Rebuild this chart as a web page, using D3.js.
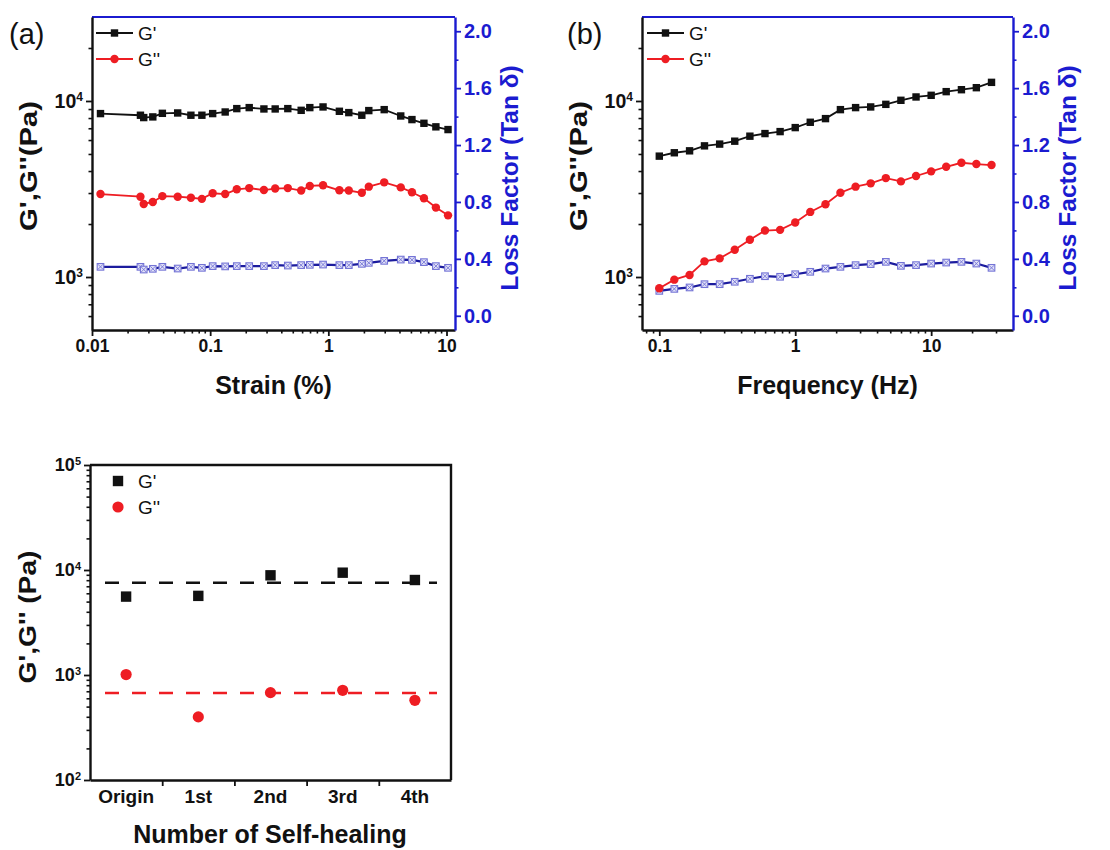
<!DOCTYPE html>
<html>
<head>
<meta charset="utf-8">
<script src="https://cdn.jsdelivr.net/npm/d3@7"></script>
<style>
  html, body { margin: 0; padding: 0; background: #fff; }
  svg text { font-family: "Liberation Sans", Arial, sans-serif; }
</style>
</head>
<body>
<script>
// ---------------- DATA ----------------
const strainX   = [0.0118, 0.0257, 0.0274, 0.0327, 0.0394, 0.0531, 0.0687, 0.0851, 0.105, 0.134, 0.168, 0.214, 0.285, 0.355, 0.454, 0.589, 0.697, 0.902, 1.24, 1.49, 1.92, 2.20, 2.97, 4.10, 5.10, 6.44, 8.13, 10.3];
const strainGp  = [8480, 8300, 8050, 8120, 8510, 8550, 8300, 8300, 8480, 8660, 9050, 9170, 9010, 9010, 9050, 8850, 9170, 9250, 8740, 8590, 8300, 8820, 8930, 8220, 7840, 7470, 7130, 6880];
const strainGpp = [2960, 2860, 2600, 2670, 2880, 2860, 2820, 2780, 2990, 2960, 3150, 3200, 3120, 3180, 3200, 3100, 3290, 3320, 3110, 3100, 3010, 3260, 3450, 3230, 3030, 2800, 2480, 2240];
const strainTan = [0.344, 0.344, 0.325, 0.330, 0.344, 0.332, 0.344, 0.337, 0.349, 0.347, 0.349, 0.349, 0.349, 0.356, 0.353, 0.356, 0.358, 0.360, 0.356, 0.356, 0.365, 0.372, 0.386, 0.395, 0.393, 0.377, 0.349, 0.337];

const freqX   = [0.1, 0.129, 0.167, 0.215, 0.278, 0.359, 0.464, 0.599, 0.774, 1.0, 1.29, 1.67, 2.15, 2.78, 3.59, 4.64, 5.99, 7.74, 10, 12.9, 16.7, 21.5, 27.8];
const freqGp  = [4860, 5080, 5210, 5560, 5690, 5910, 6310, 6530, 6700, 7060, 7570, 7940, 8930, 9170, 9250, 9570, 10090, 10540, 10770, 11300, 11590, 11900, 12760];
const freqGpp = [863, 966, 1027, 1227, 1276, 1429, 1627, 1836, 1853, 2039, 2343, 2589, 3013, 3260, 3405, 3648, 3493, 3748, 3983, 4230, 4456, 4382, 4327];
const freqTan = [0.175, 0.189, 0.199, 0.222, 0.222, 0.239, 0.260, 0.278, 0.274, 0.292, 0.309, 0.332, 0.344, 0.356, 0.363, 0.379, 0.351, 0.356, 0.367, 0.374, 0.379, 0.367, 0.337];

const healCats = ["Origin", "1st", "2nd", "3rd", "4th"];
const healGp   = [5580, 5670, 8900, 9430, 8030];
const healGpp  = [1010, 399, 679, 715, 574];
const healGpMean  = [7580];
const healGppMean = [675];

const strainTicks = [0.01, 0.1, 1, 10];
const freqTicks   = [0.1, 1, 10];
const modTicks    = [1e3, 1e4];
const modTicksC   = [1e2, 1e3, 1e4, 1e5];
const tanTicks    = [0.0, 0.4, 0.8, 1.2, 1.6, 2.0];
const tanMinor    = [0.2, 0.6, 1.0, 1.4, 1.8];

// ---------------- STYLE ----------------
const BLACK = "#111";
const RED = "#ee1d23";
const BLUE = "#1b1bd0";
const NAVY = "#1c1c9e";
const MK_STROKE = "#7474d6";
const MK_FILL = "#e2e2f7";

const svg = d3.select("body").append("svg").attr("width", 1110).attr("height", 850);

function logMinors(lo, hi) {
  const out = [];
  for (let e = -3; e <= 5; e++) {
    for (let m = 2; m <= 9; m++) {
      const v = m * Math.pow(10, e);
      if (v > lo * 1.0001 && v < hi * 0.9999) out.push(v);
    }
  }
  return out;
}

function supFormat(sel, supSize) {
  sel.selectAll(".tick text").each(function(d) {
    const t = d3.select(this);
    const e = Math.round(Math.log10(d));
    t.text(null);
    t.append("tspan").text("10");
    t.append("tspan").attr("dy", "-0.55em").attr("font-size", supSize).text(e);
  });
}

function styleAxis(g, color, width) {
  g.select(".domain").attr("stroke", color).attr("stroke-width", width);
  g.selectAll(".tick line").attr("stroke", color).attr("stroke-width", 1.8);
}

function seriesPanel(cfg) {
  const { x, y, r, xTicks, xLabel, tag, tagX, legX, Gp, Gpp, Tan, X } = cfg;
  const [x0, x1] = x.range();
  const [y0, y1] = y.range(); // y0 bottom, y1 top

  // top frame (blue)
  svg.append("line").attr("x1", x0).attr("x2", x1).attr("y1", y1).attr("y2", y1)
    .attr("stroke", BLUE).attr("stroke-width", 2.2);

  // bottom axis minors + majors
  const bMin = svg.append("g").attr("transform", `translate(0,${y0})`)
    .call(d3.axisBottom(x).tickValues(logMinors(x.domain()[0], x.domain()[1])).tickSize(3.5).tickFormat(""));
  bMin.select(".domain").remove();
  bMin.selectAll(".tick line").attr("stroke", BLACK).attr("stroke-width", 1.6);
  const bMaj = svg.append("g").attr("transform", `translate(0,${y0})`)
    .call(d3.axisBottom(x).tickValues(xTicks).tickSize(6).tickSizeOuter(0).tickPadding(4).tickFormat(d3.format("~g")));
  styleAxis(bMaj, BLACK, 2.4);
  bMaj.selectAll(".tick text").attr("font-size", 17.5).attr("font-weight", "bold").attr("fill", BLACK);

  // left axis
  const lMin = svg.append("g").attr("transform", `translate(${x0},0)`)
    .call(d3.axisLeft(y).tickValues(logMinors(y.domain()[0], y.domain()[1])).tickSize(3.5).tickFormat(""));
  lMin.select(".domain").remove();
  lMin.selectAll(".tick line").attr("stroke", BLACK).attr("stroke-width", 1.6);
  const lMaj = svg.append("g").attr("transform", `translate(${x0},0)`)
    .call(d3.axisLeft(y).tickValues(modTicks).tickSize(6).tickSizeOuter(0).tickPadding(3));
  styleAxis(lMaj, BLACK, 2.4);
  lMaj.selectAll(".tick text").attr("font-size", 19.5).attr("font-weight", "bold").attr("fill", BLACK);
  supFormat(lMaj, 12);

  // right axis (blue)
  const rMin = svg.append("g").attr("transform", `translate(${x1},0)`)
    .call(d3.axisRight(r).tickValues(tanMinor).tickSize(3.5).tickFormat(""));
  rMin.select(".domain").remove();
  rMin.selectAll(".tick line").attr("stroke", BLUE).attr("stroke-width", 1.6);
  const rMaj = svg.append("g").attr("transform", `translate(${x1},0)`)
    .call(d3.axisRight(r).tickValues(tanTicks).tickSize(6).tickSizeOuter(0).tickPadding(3).tickFormat(d3.format(".1f")));
  styleAxis(rMaj, BLUE, 2.4);
  rMaj.selectAll(".tick text").attr("font-size", 20).attr("font-weight", "bold").attr("fill", BLUE);

  // series
  const clip = "clip-" + tag.replace(/[()]/g, "");
  svg.append("clipPath").attr("id", clip).append("rect")
    .attr("x", x0).attr("y", y1).attr("width", x1 - x0).attr("height", y0 - y1);
  const plot = svg.append("g").attr("clip-path", `url(#${clip})`);

  const ptsTan = X.map((v, i) => [x(v), r(Tan[i])]);
  plot.append("path").attr("d", d3.line()(ptsTan)).attr("fill", "none").attr("stroke", NAVY).attr("stroke-width", 2.2);
  const tanG = plot.append("g").selectAll("g").data(ptsTan).join("g").attr("transform", d => `translate(${d[0]},${d[1]})`);
  tanG.append("rect").attr("x", -3.3).attr("y", -3.3).attr("width", 6.6).attr("height", 6.6)
    .attr("fill", MK_FILL).attr("stroke", MK_STROKE).attr("stroke-width", 1.1);
  tanG.append("path").attr("d", "M-2.6,-2.6L2.6,2.6M-2.6,2.6L2.6,-2.6").attr("stroke", MK_STROKE).attr("stroke-width", 0.9);

  const ptsGpp = X.map((v, i) => [x(v), y(Gpp[i])]);
  plot.append("path").attr("d", d3.line()(ptsGpp)).attr("fill", "none").attr("stroke", RED).attr("stroke-width", 1.8);
  plot.append("g").selectAll("circle").data(ptsGpp).join("circle")
    .attr("cx", d => d[0]).attr("cy", d => d[1]).attr("r", 4.2).attr("fill", RED);

  const ptsGp = X.map((v, i) => [x(v), y(Gp[i])]);
  plot.append("path").attr("d", d3.line()(ptsGp)).attr("fill", "none").attr("stroke", BLACK).attr("stroke-width", 1.8);
  plot.append("g").selectAll("rect").data(ptsGp).join("rect")
    .attr("x", d => d[0] - 3.7).attr("y", d => d[1] - 3.7).attr("width", 7.4).attr("height", 7.4).attr("fill", BLACK);

  // legend
  const leg = [{ name: "G'", color: BLACK, shape: "sq", yy: 33 }, { name: "G''", color: RED, shape: "ci", yy: 59 }];
  leg.forEach(l => {
    svg.append("line").attr("x1", legX).attr("x2", legX + 37).attr("y1", l.yy).attr("y2", l.yy)
      .attr("stroke", l.color).attr("stroke-width", 2);
    if (l.shape === "sq") {
      svg.append("rect").attr("x", legX + 18.5 - 3.7).attr("y", l.yy - 3.7).attr("width", 7.4).attr("height", 7.4).attr("fill", l.color);
    } else {
      svg.append("circle").attr("cx", legX + 18.5).attr("cy", l.yy).attr("r", 4.2).attr("fill", l.color);
    }
    svg.append("text").attr("x", legX + 42).attr("y", l.yy + 6.5).attr("font-size", 19).attr("fill", BLACK).text(l.name);
  });

  // titles
  svg.append("text").attr("x", tagX).attr("y", 44).attr("font-size", 29).attr("fill", BLACK).text(tag);
  svg.append("text").attr("transform", `translate(${x0 - 55},166) rotate(-90)`)
    .attr("text-anchor", "middle").attr("font-size", 24).attr("font-weight", "bold").attr("fill", BLACK)
    .attr("textLength", 130).attr("lengthAdjust", "spacingAndGlyphs")
    .text("G',G''(Pa)");
  svg.append("text").attr("transform", `translate(${x1 + 63},178) rotate(-90)`)
    .attr("text-anchor", "middle").attr("font-size", 24.5).attr("font-weight", "bold").attr("fill", BLUE)
    .text("Loss Factor (Tan \u03b4)");
  svg.append("text").attr("x", (x0 + x1) / 2).attr("y", 394)
    .attr("text-anchor", "middle").attr("font-size", 25).attr("font-weight", "bold").attr("fill", BLACK)
    .text(xLabel);
}

// ---------------- PANEL (a) ----------------
seriesPanel({
  x: d3.scaleLog().domain([0.01, 11.8]).range([92, 455]),
  y: d3.scaleLog().domain([500, 30000]).range([330, 17]),
  r: d3.scaleLinear().domain([-0.1, 2.1]).range([330, 17]),
  xTicks: strainTicks, xLabel: "Strain (%)", tag: "(a)", tagX: 9, legX: 96,
  X: strainX, Gp: strainGp, Gpp: strainGpp, Tan: strainTan
});

// ---------------- PANEL (b) ----------------
seriesPanel({
  x: d3.scaleLog().domain([0.0746, 40]).range([642, 1013]),
  y: d3.scaleLog().domain([500, 30000]).range([330, 17]),
  r: d3.scaleLinear().domain([-0.1, 2.1]).range([330, 17]),
  xTicks: freqTicks, xLabel: "Frequency (Hz)", tag: "(b)", tagX: 567, legX: 647,
  X: freqX, Gp: freqGp, Gpp: freqGpp, Tan: freqTan
});

// ---------------- PANEL (c) ----------------
(function() {
  const L = 90, R = 451, T = 465, B = 780;
  const xC = d3.scaleBand().domain(healCats).range([L, R]);
  const xEdge = d3.scaleLinear().domain([0, healCats.length]).range([L, R]);
  const yC = d3.scaleLog().domain([100, 1e5]).range([B, T]);

  // frame top/right
  svg.append("path").attr("d", `M${L},${T}H${R}V${B}`).attr("fill", "none").attr("stroke", BLACK).attr("stroke-width", 2.4);

  const lMin = svg.append("g").attr("transform", `translate(${L},0)`)
    .call(d3.axisLeft(yC).tickValues(logMinors(100, 1e5)).tickSize(3.5).tickFormat(""));
  lMin.select(".domain").remove();
  lMin.selectAll(".tick line").attr("stroke", BLACK).attr("stroke-width", 1.6);
  const lMaj = svg.append("g").attr("transform", `translate(${L},0)`)
    .call(d3.axisLeft(yC).tickValues(modTicksC).tickSize(6).tickSizeOuter(0).tickPadding(3));
  styleAxis(lMaj, BLACK, 2.4);
  lMaj.selectAll(".tick text").attr("font-size", 18).attr("font-weight", "bold").attr("fill", BLACK);
  supFormat(lMaj, 11);

  const bEdge = svg.append("g").attr("transform", `translate(0,${B})`)
    .call(d3.axisBottom(xEdge).tickValues([1, 2, 3, 4]).tickSize(6).tickSizeOuter(0).tickFormat(""));
  styleAxis(bEdge, BLACK, 2.4);
  const bLab = svg.append("g").attr("transform", `translate(0,${B})`)
    .call(d3.axisBottom(xC).tickSize(0).tickPadding(10));
  bLab.select(".domain").remove();
  bLab.selectAll(".tick text").attr("font-size", 19).attr("font-weight", "bold").attr("fill", BLACK);

  // mean dashed lines
  svg.append("g").selectAll("line").data(healGpMean).join("line")
    .attr("x1", L + 15).attr("x2", R - 14).attr("y1", d => yC(d)).attr("y2", d => yC(d))
    .attr("stroke", BLACK).attr("stroke-width", 2.5).attr("stroke-dasharray", "14,13");
  svg.append("g").selectAll("line").data(healGppMean).join("line")
    .attr("x1", L + 15).attr("x2", R - 14).attr("y1", d => yC(d)).attr("y2", d => yC(d))
    .attr("stroke", RED).attr("stroke-width", 2.5).attr("stroke-dasharray", "14,13");

  const bw = xC.bandwidth();
  svg.append("g").selectAll("rect").data(healGp).join("rect")
    .attr("x", (d, i) => xC(healCats[i]) + bw / 2 - 5.2).attr("y", d => yC(d) - 5.2)
    .attr("width", 10.4).attr("height", 10.4).attr("fill", BLACK);
  svg.append("g").selectAll("circle").data(healGpp).join("circle")
    .attr("cx", (d, i) => xC(healCats[i]) + bw / 2).attr("cy", d => yC(d)).attr("r", 5.6).attr("fill", RED);

  // legend
  svg.append("rect").attr("x", 118 - 5.2).attr("y", 481 - 5.2).attr("width", 10.4).attr("height", 10.4).attr("fill", BLACK);
  svg.append("text").attr("x", 138).attr("y", 487.5).attr("font-size", 19).attr("fill", BLACK).text("G'");
  svg.append("circle").attr("cx", 118).attr("cy", 507).attr("r", 5.6).attr("fill", RED);
  svg.append("text").attr("x", 138).attr("y", 513.5).attr("font-size", 19).attr("fill", BLACK).text("G''");

  // titles
  svg.append("text").attr("transform", `translate(36,617) rotate(-90)`)
    .attr("text-anchor", "middle").attr("font-size", 24).attr("font-weight", "bold").attr("fill", BLACK)
    .attr("textLength", 133).attr("lengthAdjust", "spacingAndGlyphs")
    .text("G',G'' (Pa)");
  svg.append("text").attr("x", 270).attr("y", 843)
    .attr("text-anchor", "middle").attr("font-size", 25).attr("font-weight", "bold").attr("fill", BLACK)
    .text("Number of Self-healing");
})();
</script>
</body>
</html>
